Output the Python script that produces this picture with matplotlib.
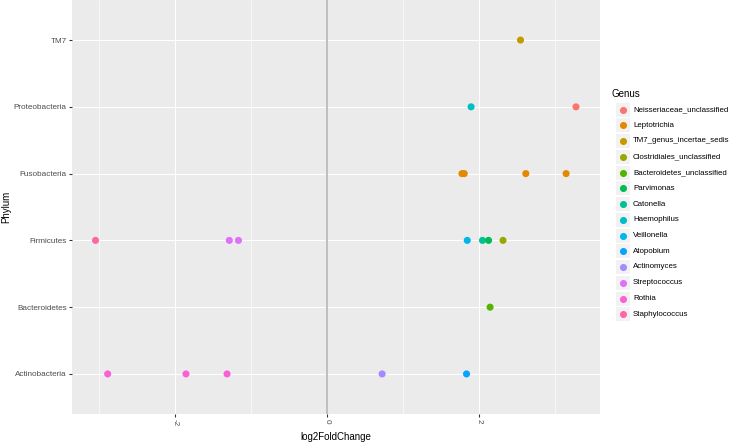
import matplotlib as mpl
mpl.use('Agg')
from matplotlib import pyplot as plt
from matplotlib.patches import Rectangle
import numpy as np

plt.rcParams['font.family'] = ['Liberation Sans', 'DejaVu Sans']

# categories (bottom to top)
phyla = ['Actinobacteria', 'Bacteroidetes', 'Firmicutes',
         'Fusobacteria', 'Proteobacteria', 'TM7']

genera = ['Neisseriaceae_unclassified', 'Leptotrichia', 'TM7_genus_incertae_sedis',
          'Clostridiales_unclassified', 'Bacteroidetes_unclassified', 'Parvimonas',
          'Catonella', 'Haemophilus', 'Veillonella', 'Atopobium', 'Actinomyces',
          'Streptococcus', 'Rothia', 'Staphylococcus']

# ggplot hue palette, 14 levels
genus_colors = ['#F8766D', '#E38900', '#C49A00', '#99A800', '#53B400', '#00BC56',
                '#00C094', '#00BFC4', '#00B6EB', '#06A4FF', '#A58AFF', '#DF70F8',
                '#FB61D7', '#FF66A8']

# one entry per point
pt_phylum = ['Actinobacteria', 'Actinobacteria', 'Actinobacteria', 'Actinobacteria', 'Actinobacteria',
             'Bacteroidetes',
             'Firmicutes', 'Firmicutes', 'Firmicutes', 'Firmicutes', 'Firmicutes', 'Firmicutes', 'Firmicutes',
             'Fusobacteria', 'Fusobacteria', 'Fusobacteria', 'Fusobacteria',
             'Proteobacteria', 'Proteobacteria',
             'TM7']
pt_genus = ['Rothia', 'Rothia', 'Rothia', 'Actinomyces', 'Atopobium',
            'Bacteroidetes_unclassified',
            'Staphylococcus', 'Streptococcus', 'Streptococcus', 'Veillonella', 'Catonella',
            'Parvimonas', 'Clostridiales_unclassified',
            'Leptotrichia', 'Leptotrichia', 'Leptotrichia', 'Leptotrichia',
            'Haemophilus', 'Neisseriaceae_unclassified',
            'TM7_genus_incertae_sedis']
pt_lfc = [-2.89, -1.86, -1.32, 0.72, 1.83,
          2.14,
          -3.05, -1.29, -1.17, 1.84, 2.04, 2.12, 2.31,
          1.77, 1.80, 2.61, 3.14,
          1.89, 3.27,
          2.54]

W, H = 738, 442
fig = plt.figure(figsize=(W / 100, H / 100), dpi=100)
px_l, px_r, px_t, px_b = 71.5, 600, 0, 414
ax = fig.add_axes([px_l / W, 1 - px_b / H, (px_r - px_l) / W, (px_b - px_t) / H])
ax.set_facecolor('#EBEBEB')
for s in ax.spines.values():
    s.set_visible(False)

yidx = [phyla.index(p) + 1 for p in pt_phylum]
cols = [genus_colors[genera.index(g)] for g in pt_genus]

xmin, xmax = min(pt_lfc), max(pt_lfc)
pad = 0.05 * (xmax - xmin)
ax.set_xlim(xmin - pad, xmax + pad)
ax.set_ylim(0.4, len(phyla) + 0.6)

ax.set_xticks([-2, 0, 2])
ax.set_xticks([-3, -1, 1, 3], minor=True)
ax.set_yticks(range(1, len(phyla) + 1))
ax.set_yticklabels(phyla)
ax.set_xticklabels(['-2', '0', '2'], rotation=270)

ax.grid(which='major', color='white', linewidth=0.78)
ax.grid(which='minor', axis='x', color='white', linewidth=0.4)
ax.set_axisbelow(True)
ax.tick_params(which='major', length=2, width=0.78, color='#333333',
               labelsize=5.9, labelcolor='#4D4D4D', pad=1.4)
ax.tick_params(which='minor', length=0)

ax.axvline(0, color='#BEBEBE', linewidth=1.4, zorder=1.5)
ax.scatter(pt_lfc, yidx, c=cols, s=26, linewidths=0, zorder=3)

ax.set_xlabel('log2FoldChange', fontsize=7.0, labelpad=4)

# legend and y title drawn in pixel coordinates
lax = fig.add_axes([0, 0, 1, 1])
lax.set_xlim(0, W)
lax.set_ylim(H, 0)
lax.axis('off')
lax.text(6, (px_t + px_b) / 2, 'Phylum', fontsize=7.0, va='center', ha='center', rotation=90)
lax.text(612, 94, 'Genus', fontsize=7.0, va='center', ha='left')
y0, dy, key = 109.5, 15.75, 14
for i, g in enumerate(genera):
    yc = y0 + i * dy
    lax.add_patch(Rectangle((616, yc - key / 2), key, key, facecolor='#F2F2F2', edgecolor='none'))
    lax.scatter([616 + key / 2], [yc], s=26, color=genus_colors[i], linewidths=0)
    lax.text(633, yc, g, fontsize=5.7, va='center', ha='left', color='black')

plt.savefig('out.png', dpi=100)
plt.close()
